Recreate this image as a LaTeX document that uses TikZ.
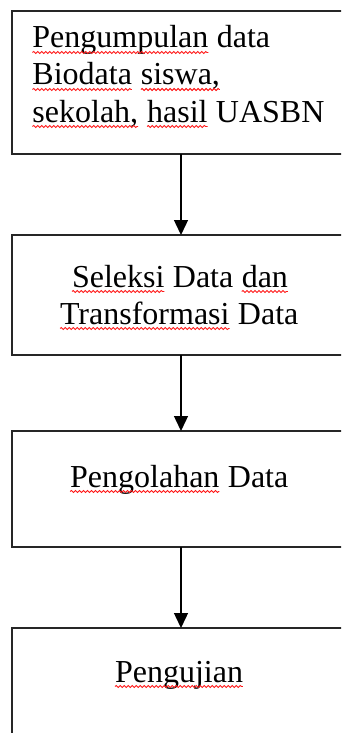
\documentclass[tikz,border=0pt]{standalone}
\usepackage{fontspec}
\setmainfont{Liberation Serif}
\usetikzlibrary{arrows.meta,decorations.pathmorphing}
\newcommand\redwave[1]{\tikz[baseline=(w.base),x=1cm,y=1cm]{\node[inner sep=0pt,outer sep=0pt] (w) {#1};
  \draw[red!90!white, line width=0.9pt, decorate, decoration={snake,amplitude=1pt,segment length=4pt}] ([yshift=-4.5pt]w.base west) -- ([yshift=-4.5pt]w.base east);}}
\tikzset{
  flowbox/.style={draw=black!85, line width=1.3pt, rectangle, minimum width=338pt, inner sep=0pt, outer sep=0pt},
  boxtext/.style={inner sep=0pt, outer sep=0pt, font=\fontsize{32}{37}\selectfont},
  flowarrow/.style={draw=black, line width=1.4pt, -{Triangle[width=14pt,length=15pt]}}
}
\begin{document}
\begin{tikzpicture}[x=1pt,y=-1pt]
\useasboundingbox (0,0) rectangle (341,733);
\clip (0,0) rectangle (341,733);
\fill[white] (0,0) rectangle (341,733);
% boxes
\node[flowbox, minimum height=143pt, anchor=north west] (b1) at (12,11) {};
\node[flowbox, minimum height=120pt, anchor=north west] (b2) at (12,235) {};
\node[flowbox, minimum height=116pt, anchor=north west] (b3) at (12,431) {};
\node[flowbox, minimum height=140pt, anchor=north west] (b4) at (12,628) {};
% texts
\node[boxtext, anchor=base west] (t1a) at (32,48) {\redwave{Pengumpulan} data};
\node[boxtext, anchor=base west] (t1b) at (32,85) {\redwave{Biodata} \redwave{siswa,}};
\node[boxtext, anchor=base west] (t1c) at (32,122) {\redwave{sekolah,} \redwave{hasil} UASBN};
\node[boxtext, anchor=base] (t2a) at (180,287) {\redwave{Seleksi} Data \redwave{dan}};
\node[boxtext, anchor=base] (t2b) at (179,324) {\redwave{Transformasi} Data};
\node[boxtext, anchor=base] (t3) at (179,487) {\redwave{Pengolahan} Data};
\node[boxtext, anchor=base] (t4) at (179,682) {\redwave{Pengujian}};
% arrows
\draw[flowarrow] (b1.south -| 181,0) -- (b2.north -| 181,0);
\draw[flowarrow] (b2.south -| 181,0) -- (b3.north -| 181,0);
\draw[flowarrow] (b3.south -| 181,0) -- (b4.north -| 181,0);
\end{tikzpicture}
\end{document}
